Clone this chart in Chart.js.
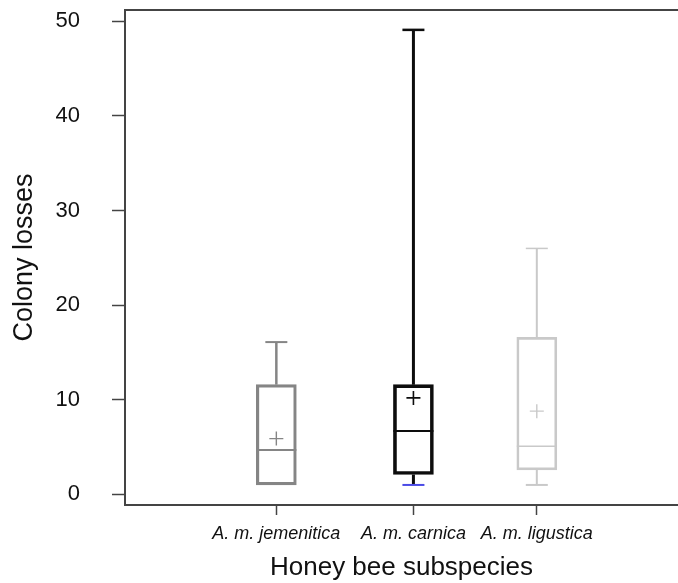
<!DOCTYPE html>
<html>
<head>
<meta charset="utf-8">
<script src="https://cdn.jsdelivr.net/npm/chart.js@4.4.1/dist/chart.umd.min.js"></script>
<style>
  html, body { margin: 0; padding: 0; background: #ffffff; overflow: hidden; }
  #wrap { width: 678px; height: 583px; }
</style>
</head>
<body>
<div id="wrap"><canvas id="c" width="678" height="583"></canvas></div>
<script>
// ---- data ----
const categories = ['A. m. jemenitica', 'A. m. carnica', 'A. m. ligustica'];
const xPositions = [1, 2, 2.9];
const whiskerLow  = [1.0, 1.0, 1.0];
const q1Values    = [1.0, 2.1, 2.6];
const medians     = [4.7, 6.7, 5.1];
const q3Values    = [11.6, 11.6, 16.6];
const whiskerHigh = [16.1, 49.1, 26.0];
const means       = [5.9, 10.2, 8.8];
const yTicks      = [0, 10, 20, 30, 40, 50];

// ---- styles ----
const colors      = ['#858585', '#0d0d0d', '#c9c9c9'];
const boxWidths   = [2.5, 3, 2];
const medWidths   = [2, 2, 1.5];
const lowCapColor = ['#858585', '#4a4ae6', '#c9c9c9'];
const BOX_PX = 40, CAP_PX = 22;
const AXIS = '#444444';
const FONT = 'Liberation Sans, Arial, sans-serif';

const boxData = xPositions.map((x, i) => ({ x: x, y: [q1Values[i], q3Values[i]] }));
const meanData = xPositions.map((x, i) => ({ x: x, y: means[i] }));

const boxPlugin = {
  id: 'boxParts',
  afterDatasetsDraw(chart) {
    const { ctx, chartArea, scales: { x, y } } = chart;
    ctx.save();
    ctx.lineCap = 'butt';
    // top frame line
    ctx.strokeStyle = AXIS;
    ctx.lineWidth = 2;
    ctx.beginPath(); ctx.moveTo(chartArea.left - 1, chartArea.top); ctx.lineTo(chartArea.right, chartArea.top); ctx.stroke();
    xPositions.forEach((xv, i) => {
      const cx = x.getPixelForValue(xv);
      const pHi = y.getPixelForValue(whiskerHigh[i]);
      const pQ3 = y.getPixelForValue(q3Values[i]);
      const pQ1 = y.getPixelForValue(q1Values[i]);
      const pLo = y.getPixelForValue(whiskerLow[i]);
      const pMed = y.getPixelForValue(medians[i]);
      ctx.strokeStyle = colors[i];
      ctx.lineWidth = boxWidths[i];
      ctx.beginPath(); ctx.moveTo(cx, pQ3); ctx.lineTo(cx, pHi); ctx.stroke();
      ctx.lineWidth = boxWidths[i] - 0.5;
      ctx.beginPath(); ctx.moveTo(cx - CAP_PX / 2, pHi); ctx.lineTo(cx + CAP_PX / 2, pHi); ctx.stroke();
      if (pLo - pQ1 > 0.5) {
        ctx.lineWidth = boxWidths[i];
        ctx.beginPath(); ctx.moveTo(cx, pQ1); ctx.lineTo(cx, pLo); ctx.stroke();
        ctx.strokeStyle = lowCapColor[i];
        ctx.lineWidth = 2;
        ctx.beginPath(); ctx.moveTo(cx - CAP_PX / 2, pLo); ctx.lineTo(cx + CAP_PX / 2, pLo); ctx.stroke();
      }
      ctx.strokeStyle = colors[i];
      ctx.lineWidth = medWidths[i];
      ctx.beginPath(); ctx.moveTo(cx - BOX_PX / 2, pMed); ctx.lineTo(cx + BOX_PX / 2, pMed); ctx.stroke();
    });
    ctx.restore();
  }
};

new Chart(document.getElementById('c'), {
  data: {
    datasets: [
      {
        type: 'bar',
        data: boxData,
        backgroundColor: 'rgba(0,0,0,0)',
        borderColor: colors,
        borderWidth: boxWidths,
        borderSkipped: false,
        barThickness: BOX_PX
      },
      {
        type: 'scatter',
        data: meanData,
        pointStyle: 'cross',
        pointRadius: 7,
        pointBorderColor: colors,
        pointBorderWidth: [1.4, 1.6, 1.4],
        showLine: false
      }
    ]
  },
  options: {
    responsive: false,
    animation: false,
    events: [],
    layout: { autoPadding: false, padding: { top: 10, right: 0, left: 0, bottom: 0 } },
    plugins: { legend: { display: false }, tooltip: { enabled: false } },
    scales: {
      x: {
        type: 'linear',
        position: 'bottom',
        offset: false,
        min: -0.104,
        max: 3.93,
        afterBuildTicks: (s) => { s.ticks = xPositions.map(v => ({ value: v })); },
        afterFit: (s) => { s.height = 78; s.paddingLeft = 0; s.paddingRight = 0; },
        grid: { display: true, offset: false, drawOnChartArea: false, drawTicks: true, tickLength: 10, tickWidth: 1.5, tickColor: AXIS },
        border: { display: true, color: AXIS, width: 2 },
        ticks: {
          autoSkip: false,
          maxRotation: 0,
          padding: 8,
          color: '#111111',
          font: { family: FONT, size: 18, style: 'italic' },
          callback: (v, i) => categories[i]
        },
        title: {
          display: true,
          text: 'Honey bee subspecies',
          color: '#111111',
          font: { family: FONT, size: 26 },
          padding: { top: 0, bottom: 0 }
        }
      },
      y: {
        type: 'linear',
        position: 'left',
        min: -1.12,
        max: 51.2,
        afterBuildTicks: (s) => { s.ticks = yTicks.map(v => ({ value: v })); },
        afterFit: (s) => { s.width = 125; s.paddingTop = 0; s.paddingBottom = 0; },
        grid: { display: true, drawOnChartArea: false, drawTicks: true, tickLength: 13, tickWidth: 1.5, tickColor: AXIS },
        border: { display: true, color: AXIS, width: 2 },
        ticks: {
          padding: 32,
          color: '#111111',
          font: { family: FONT, size: 22 }
        },
        title: {
          display: true,
          text: 'Colony losses',
          color: '#111111',
          font: { family: FONT, size: 27 },
          padding: { top: 8, bottom: 0 }
        }
      }
    }
  },
  plugins: [boxPlugin]
});
</script>
</body>
</html>
